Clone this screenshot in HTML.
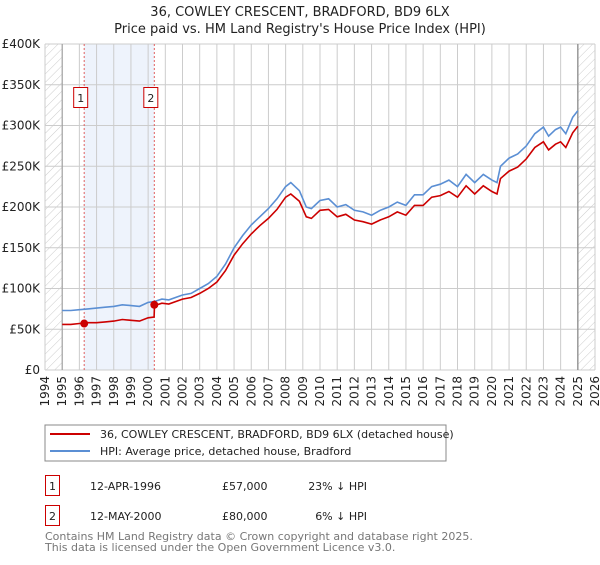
<!DOCTYPE html>
<html><head><meta charset="utf-8">
<style>
body{margin:0;background:#fff;font-family:"Liberation Sans","DejaVu Sans",sans-serif;}
svg text{font-family:"DejaVu Sans","Liberation Sans",sans-serif;}
</style></head>
<body>
<svg id="chart" width="600" height="560" xmlns="http://www.w3.org/2000/svg">
<defs>
<pattern id="hatch" width="6" height="6" patternUnits="userSpaceOnUse" patternTransform="rotate(45)">
<line x1="0" y1="0" x2="0" y2="6" stroke="#ccc" stroke-width="1"/>
</pattern>
</defs>
<text x="300" y="16" text-anchor="middle" font-size="13" fill="#222">36, COWLEY CRESCENT, BRADFORD, BD9 6LX</text>
<text x="300" y="33" text-anchor="middle" font-size="13" fill="#222">Price paid vs. HM Land Registry's House Price Index (HPI)</text>
<g id="grid"></g>
<g id="marks"></g>
<g id="axes"></g>
<rect x="45" y="425" width="401" height="36" fill="#fff" stroke="#888"/>
<line x1="50" y1="434" x2="90" y2="434" stroke="#cc0000" stroke-width="2"/>
<text x="100" y="438" font-size="11" fill="#222">36, COWLEY CRESCENT, BRADFORD, BD9 6LX (detached house)</text>
<line x1="50" y1="451" x2="90" y2="451" stroke="#5b8fd4" stroke-width="2"/>
<text x="100" y="455" font-size="11" fill="#222">HPI: Average price, detached house, Bradford</text>
<g>
<rect x="45.5" y="475.5" width="14" height="20" fill="#fff" stroke="#cc0000"/>
<text x="52.5" y="490" text-anchor="middle" font-size="11" fill="#222">1</text>
<text x="90" y="490" font-size="11" fill="#222">12-APR-1996</text>
<text x="222" y="490" font-size="11" fill="#222">£57,000</text>
<text x="367" y="490" text-anchor="end" font-size="11" fill="#222">23% ↓ HPI</text>
</g>
<g>
<rect x="45.5" y="505.5" width="14" height="20" fill="#fff" stroke="#cc0000"/>
<text x="52.5" y="520" text-anchor="middle" font-size="11" fill="#222">2</text>
<text x="90" y="520" font-size="11" fill="#222">12-MAY-2000</text>
<text x="222" y="520" font-size="11" fill="#222">£80,000</text>
<text x="367" y="520" text-anchor="end" font-size="11" fill="#222">6% ↓ HPI</text>
</g>
<text x="45" y="540" font-size="11" fill="#777">Contains HM Land Registry data © Crown copyright and database right 2025.</text>
<text x="45" y="551" font-size="11" fill="#777">This data is licensed under the Open Government Licence v3.0.</text>
</svg>
<script>
const dates=[1995.0,1995.5,1996.0,1996.5,1997.0,1997.5,1998.0,1998.5,1999.0,1999.5,2000.0,2000.35,2000.37,2000.8,2001.2,2002.0,2002.5,2003.0,2003.5,2004.0,2004.5,2005.0,2005.5,2006.0,2006.5,2007.0,2007.5,2008.0,2008.3,2008.8,2009.2,2009.5,2010.0,2010.5,2011.0,2011.5,2012.0,2012.5,2013.0,2013.5,2014.0,2014.5,2015.0,2015.5,2016.0,2016.5,2017.0,2017.5,2018.0,2018.5,2019.0,2019.5,2020.0,2020.3,2020.5,2021.0,2021.5,2022.0,2022.5,2023.0,2023.3,2023.7,2024.0,2024.3,2024.7,2025.0];
const hpiValues=[73,73,74,75,76,77,78,80,79,78,83,84,84,87,86,92,94,100,106,115,130,150,165,178,188,198,210,225,230,220,200,198,208,210,200,203,196,194,190,196,200,206,202,215,215,225,228,233,225,240,230,240,233,230,250,260,265,275,290,298,287,295,298,290,310,318];
const propertyValues=[56,56,57,58,58,59,60,62,61,60,64,65,79,82,81,87,89,94,100,108,122,141,155,167,177,186,197,212,216,207,188,186,196,197,188,191,184,182,179,184,188,194,190,202,202,212,214,219,212,226,216,226,219,216,235,244,249,259,273,280,270,277,280,273,291,299];
const saleDates=[1996.28,2000.36];
const salePrices=[57,80];
const saleLabels=["1","2"];
const yTicks=[0,50,100,150,200,250,300,350,400];
const yTickLabels=["£0","£50K","£100K","£150K","£200K","£250K","£300K","£350K","£400K"];
const xYears=[1994,1995,1996,1997,1998,1999,2000,2001,2002,2003,2004,2005,2006,2007,2008,2009,2010,2011,2012,2013,2014,2015,2016,2017,2018,2019,2020,2021,2022,2023,2024,2025,2026];

const NS="http://www.w3.org/2000/svg";
const L=45,R=595,T=44,B=370;
const xs=d=>L+(d-1994)/(2026-1994)*(R-L);
const ys=v=>B-v/400*(B-T);
function mk(tag,attrs,parent){const e=document.createElementNS(NS,tag);for(const k in attrs)e.setAttribute(k,attrs[k]);parent.appendChild(e);return e;}
const grid=document.getElementById('grid'),marks=document.getElementById('marks'),axes=document.getElementById('axes');

let band=mk('rect',{x:xs(saleDates[0]),y:T,width:xs(saleDates[1])-xs(saleDates[0]),height:B-T,fill:'#eef3fc'},grid);


yTicks.forEach((t,i)=>{
  let g=mk('line',{x1:L,x2:R,y1:ys(t),y2:ys(t),stroke:'#ccc','stroke-width':1},grid);
  
  
  let tx=mk('text',{x:40,y:ys(t)+4,'text-anchor':'end','font-size':12,fill:'#222'},axes);
  tx.textContent=yTickLabels[i];
  
  
});
xYears.forEach(yr=>{
  let g=mk('line',{x1:xs(yr),x2:xs(yr),y1:T,y2:B,stroke:'#ccc','stroke-width':1},grid);
  
  
  let tx=mk('text',{x:0,y:0,'text-anchor':'end','font-size':12,fill:'#222',transform:`translate(${xs(yr)+4},376) rotate(-90)`},axes);
  tx.textContent=yr;
  
  
});
let h1=mk('rect',{x:L,y:T,width:xs(1995)-L,height:B-T,fill:'url(#hatch)'},grid);


let h2=mk('rect',{x:xs(2025),y:T,width:R-xs(2025),height:B-T,fill:'url(#hatch)'},grid);


let v1=mk('line',{x1:xs(1995),x2:xs(1995),y1:T,y2:B,stroke:'#999','stroke-width':1},grid);


let v2=mk('line',{x1:xs(2025),x2:xs(2025),y1:T,y2:B,stroke:'#999','stroke-width':1.5},grid);


saleDates.forEach((d,i)=>{
  let l=mk('line',{x1:xs(d),x2:xs(d),y1:T,y2:B,stroke:'#e06060','stroke-width':1,'stroke-dasharray':'2,2'},grid);
  
  
  let r=mk('rect',{x:xs(d)-10.5,y:87.5,width:14,height:20,fill:'#fff',stroke:'#cc0000'},marks);
  
  
  let t=mk('text',{x:xs(d)-3.5,y:102,'text-anchor':'middle','font-size':11,fill:'#222'},marks);
  t.textContent=saleLabels[i];
  
  
});
function pathFor(vals){return vals.map((v,i)=>(i?'L':'M')+xs(dates[i]).toFixed(1)+','+ys(v).toFixed(1)).join(' ');}
let hp=mk('path',{d:pathFor(hpiValues),fill:'none',stroke:'#5b8fd4','stroke-width':1.6},marks);


let pp=mk('path',{d:pathFor(propertyValues),fill:'none',stroke:'#cc0000','stroke-width':1.6},marks);


saleDates.forEach((d,i)=>{
  let c=mk('circle',{cx:xs(d),cy:ys(salePrices[i]),r:4,fill:'#cc0000'},marks);
  
  
});
</script>
</body></html>
